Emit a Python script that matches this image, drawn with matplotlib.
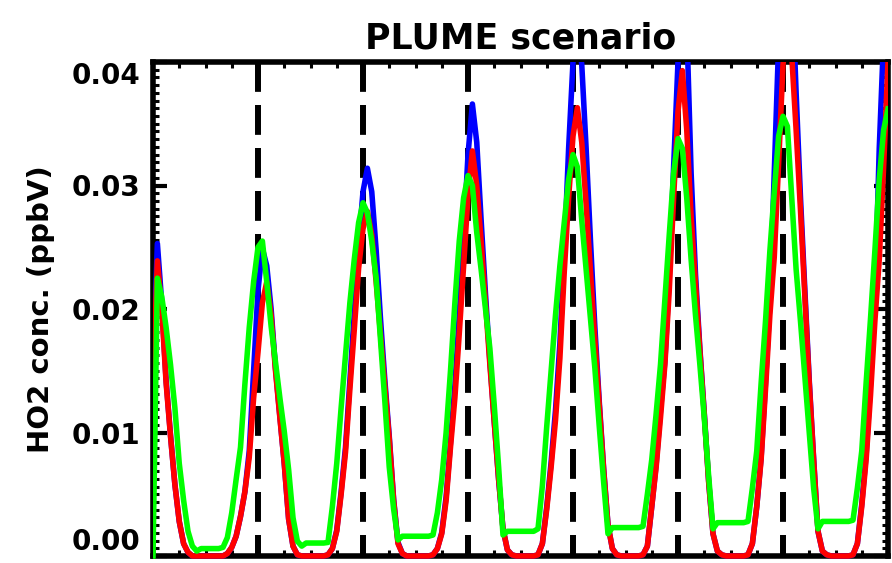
import numpy as np
import matplotlib
matplotlib.use("Agg")
import matplotlib.pyplot as plt
from matplotlib.ticker import FixedLocator, AutoMinorLocator
from matplotlib.patches import Rectangle

# hourly model output, 7 days (hour 0 .. 168)
hours = np.arange(169)

red = [
    0.0140, 0.0239, 0.0200, 0.0140, 0.0097, 0.0058, 0.0028, 0.0010, 0.0003, 0.0, 0.0, 0.0,
    0.0, 0.0, 0.0, 0.0, 0.0, 0.0002, 0.0007, 0.0016, 0.0032, 0.0052, 0.0080, 0.0128,
    0.0165, 0.0205, 0.0222, 0.0195, 0.0150, 0.0112, 0.0075, 0.0030, 0.0008, 0.0001, 0.0, 0.0,
    0.0, 0.0, 0.0, 0.0, 0.0001, 0.0006, 0.0020, 0.0050, 0.0084, 0.0135, 0.0183, 0.0233,
    0.0265, 0.0279, 0.0260, 0.0222, 0.0180, 0.0139, 0.0095, 0.0045, 0.0010, 0.0002, 0.0, 0.0,
    0.0, 0.0, 0.0, 0.0, 0.0001, 0.0006, 0.0018, 0.0045, 0.0088, 0.0128, 0.0180, 0.0235,
    0.0292, 0.0328, 0.0300, 0.0255, 0.0205, 0.0155, 0.0108, 0.0062, 0.0022, 0.0005, 0.0001, 0.0,
    0.0, 0.0, 0.0, 0.0, 0.0001, 0.0010, 0.0038, 0.0072, 0.0110, 0.0160, 0.0230, 0.0290,
    0.0340, 0.0363, 0.0335, 0.0285, 0.0230, 0.0175, 0.0122, 0.0070, 0.0025, 0.0006, 0.0001, 0.0,
    0.0, 0.0, 0.0, 0.0, 0.0001, 0.0008, 0.0040, 0.0072, 0.0112, 0.0155, 0.0215, 0.0290,
    0.0360, 0.0393, 0.0345, 0.0275, 0.0220, 0.0166, 0.0115, 0.0060, 0.0018, 0.0004, 0.0001, 0.0,
    0.0, 0.0, 0.0, 0.0, 0.0001, 0.0010, 0.0040, 0.0078, 0.0135, 0.0195, 0.0242, 0.0318,
    0.0398, 0.0428, 0.0405, 0.0345, 0.0280, 0.0210, 0.0140, 0.0078, 0.0020, 0.0004, 0.0001, 0.0,
    0.0, 0.0, 0.0, 0.0, 0.0001, 0.0010, 0.0040, 0.0078, 0.0130, 0.0190, 0.0240, 0.0315,
    0.0400,
]

blue = [
    0.0150, 0.0253, 0.0205, 0.0142, 0.0098, 0.0058, 0.0028, 0.0010, 0.0003, 0.0, 0.0, 0.0,
    0.0, 0.0, 0.0, 0.0, 0.0, 0.0002, 0.0007, 0.0016, 0.0032, 0.0052, 0.0085, 0.0150,
    0.0215, 0.0249, 0.0235, 0.0200, 0.0152, 0.0113, 0.0075, 0.0030, 0.0008, 0.0001, 0.0, 0.0,
    0.0, 0.0, 0.0, 0.0, 0.0001, 0.0006, 0.0021, 0.0052, 0.0088, 0.0142, 0.0196, 0.0252,
    0.0295, 0.0314, 0.0295, 0.0248, 0.0192, 0.0142, 0.0097, 0.0046, 0.0011, 0.0002, 0.0, 0.0,
    0.0, 0.0, 0.0, 0.0, 0.0001, 0.0006, 0.0019, 0.0048, 0.0092, 0.0138, 0.0195, 0.0258,
    0.0325, 0.0366, 0.0335, 0.0272, 0.0212, 0.0158, 0.0109, 0.0062, 0.0022, 0.0005, 0.0001, 0.0,
    0.0, 0.0, 0.0, 0.0, 0.0001, 0.0010, 0.0040, 0.0076, 0.0118, 0.0172, 0.0245, 0.0330,
    0.0400, 0.0430, 0.0398, 0.0330, 0.0255, 0.0185, 0.0125, 0.0071, 0.0025, 0.0006, 0.0001, 0.0,
    0.0, 0.0, 0.0, 0.0, 0.0001, 0.0008, 0.0040, 0.0074, 0.0118, 0.0158, 0.0225, 0.0315,
    0.0400, 0.0460, 0.0430, 0.0310, 0.0228, 0.0168, 0.0116, 0.0061, 0.0018, 0.0004, 0.0001, 0.0,
    0.0, 0.0, 0.0, 0.0, 0.0001, 0.0010, 0.0040, 0.0080, 0.0140, 0.0205, 0.0310, 0.0415,
    0.0480, 0.0510, 0.0470, 0.0375, 0.0290, 0.0215, 0.0142, 0.0079, 0.0020, 0.0004, 0.0001, 0.0,
    0.0, 0.0, 0.0, 0.0, 0.0001, 0.0010, 0.0042, 0.0082, 0.0140, 0.0205, 0.0330, 0.0420,
    0.0500,
]

green = [
    0.0, 0.0225, 0.0210, 0.0185, 0.0155, 0.0120, 0.0075, 0.0045, 0.0020, 0.0008, 0.0004, 0.0006,
    0.0006, 0.0006, 0.0006, 0.0006, 0.0007, 0.0015, 0.0035, 0.0062, 0.0088, 0.0139, 0.0185, 0.0222,
    0.0250, 0.0255, 0.0222, 0.0186, 0.0157, 0.0128, 0.0101, 0.0070, 0.0031, 0.0012, 0.0008, 0.00105,
    0.00105, 0.00105, 0.00105, 0.00105, 0.0011, 0.0040, 0.0075, 0.0120, 0.0163, 0.0205, 0.0240, 0.0270,
    0.0286, 0.0278, 0.0255, 0.0225, 0.0175, 0.0125, 0.0072, 0.0038, 0.0013, 0.0016, 0.0016, 0.0016,
    0.0016, 0.0016, 0.0016, 0.0016, 0.0017, 0.0035, 0.0062, 0.0100, 0.0150, 0.0205, 0.0255, 0.0290,
    0.0308, 0.0300, 0.0262, 0.0232, 0.0200, 0.0168, 0.0122, 0.0072, 0.0017, 0.0020, 0.0020, 0.0020,
    0.0020, 0.0020, 0.0020, 0.0020, 0.0022, 0.0057, 0.0105, 0.0150, 0.0195, 0.0235, 0.0270, 0.0305,
    0.0325, 0.0315, 0.0272, 0.0232, 0.0192, 0.0152, 0.0105, 0.0060, 0.0018, 0.0023, 0.0023, 0.0023,
    0.0023, 0.0023, 0.0023, 0.0023, 0.0024, 0.0050, 0.0078, 0.0115, 0.0155, 0.0208, 0.0260, 0.0310,
    0.0338, 0.0330, 0.0290, 0.0240, 0.0195, 0.0155, 0.0112, 0.0065, 0.0022, 0.0027, 0.0027, 0.0027,
    0.0027, 0.0027, 0.0027, 0.0027, 0.0028, 0.0055, 0.0085, 0.0140, 0.0190, 0.0247, 0.0295, 0.0340,
    0.0356, 0.0348, 0.0290, 0.0232, 0.0190, 0.0145, 0.0100, 0.0055, 0.0022, 0.0028, 0.0028, 0.0028,
    0.0028, 0.0028, 0.0028, 0.0028, 0.0029, 0.0055, 0.0085, 0.0140, 0.0192, 0.0247, 0.0305, 0.0345,
    0.0362,
]

noon_lines = [24, 48, 72, 96, 120, 144]
yticks = [0.00, 0.01, 0.02, 0.03, 0.04]
ytick_labels = ["0.00", "0.01", "0.02", "0.03", "0.04"]

plt.rcParams["font.family"] = "DejaVu Sans"

fig = plt.figure(figsize=(8.92, 5.63), dpi=100)
ax = fig.add_axes([153 / 892, 1 - 556 / 563, 735 / 892, 494 / 563])

for xd in noon_lines:
    ax.plot([xd, xd], [0.04, 0.0], color="black", lw=4.3,
            linestyle=(0, (5, 2.2)), zorder=1.5)

clip = Rectangle((0, -0.012), 1, 1.012, transform=ax.transAxes)
for series, col in [(blue, "#0000ff"), (red, "#ff0000"), (green, "#00ff00")]:
    ln, = ax.plot(hours, series, color=col, lw=4.0, zorder=3,
                  solid_joinstyle="round")
    ln.set_clip_path(clip)

ax.set_xlim(0, 168)
ax.set_ylim(0, 0.04)

ax.xaxis.set_major_locator(FixedLocator(noon_lines))
ax.xaxis.set_minor_locator(AutoMinorLocator(4))
ax.yaxis.set_major_locator(FixedLocator(yticks))
ax.yaxis.set_minor_locator(AutoMinorLocator(16))
ax.set_yticklabels(ytick_labels, fontsize=20, fontweight="bold")
ax.tick_params(axis="x", labelbottom=False)
ax.tick_params(which="both", direction="in", top=True, right=True)
ax.tick_params(which="major", length=10, width=3, pad=9)
ax.tick_params(which="minor", length=4.5, width=2.2)

labels = ax.get_yticklabels()
labels[0].set_verticalalignment("bottom")
labels[-1].set_verticalalignment("top")

for sp in ax.spines.values():
    sp.set_linewidth(4)

ax.set_title("PLUME scenario", fontsize=25, fontweight="bold", pad=10)
ax.set_ylabel("HO2 conc. (ppbV)", fontsize=21, fontweight="bold", labelpad=12)

fig.savefig("out.png", dpi=100)
